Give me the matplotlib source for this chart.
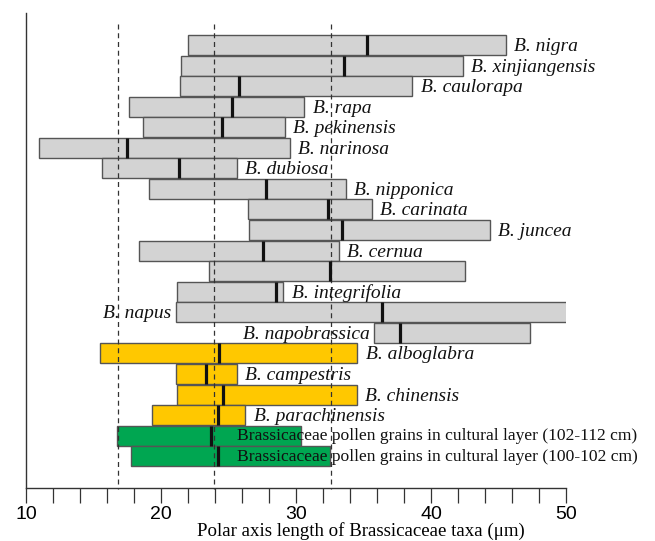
import matplotlib
matplotlib.use("Agg")
import matplotlib.pyplot as plt

# ---- data ----
taxa = ["B. nigra", "B. xinjiangensis", "B. caulorapa", "B. rapa", "B. pekinensis",
        "B. narinosa", "B. dubiosa", "B. nipponica", "B. carinata", "B. juncea",
        "B. cernua", "", "B. integrifolia", "B. napus", "B. napobrassica",
        "B. alboglabra", "B. campestris", "B. chinensis", "B. parachinensis",
        "Brassicaceae pollen grains in cultural layer (102-112 cm)",
        "Brassicaceae pollen grains in cultural layer (100-102 cm)"]
min_len = [22.0, 21.47, 21.42, 17.64, 18.68, 10.94, 15.63, 19.12, 26.43, 26.48,
           18.38, 23.57, 21.2, 21.07, 35.78, 15.49, 21.07, 21.2, 19.3, 16.7, 17.79]
mean_len = [35.23, 33.55, 25.74, 25.27, 24.53, 17.46, 21.3, 27.77, 32.35, 33.38,
            27.52, 32.54, 28.49, 36.39, 37.7, 24.31, 23.29, 24.58, 24.19, 23.72, 24.21]
max_len = [45.56, 42.35, 38.62, 30.61, 29.18, 29.52, 25.6, 33.7, 35.63, 44.35,
           33.18, 42.5, 29.05, 50.1, 47.32, 34.54, 25.62, 34.49, 26.23, 30.34, 32.51]
group = ["taxon"] * 15 + ["group2"] * 4 + ["fossil"] * 2
ref_lines = [16.82, 23.94, 32.59]
xticks_major = [10, 20, 30, 40, 50]
xlabel = "Polar axis length of Brassicaceae taxa (\u03bcm)"

# ---- style ----
colors = {"taxon": "#d3d3d3", "group2": "#ffc800", "fossil": "#00a651"}
left_labels = {"B. napus", "B. napobrassica"}
serif = ["Liberation Serif", "DejaVu Serif"]
sans = ["Liberation Sans", "DejaVu Sans"]

fig = plt.figure(figsize=(6.55, 5.41), dpi=100)
ax = fig.add_axes([0.0402, 0.0985, 0.8239, 0.8769])

n = len(taxa)
ys = list(range(n))
for y, lo, m, hi, g, name in zip(ys, min_len, mean_len, max_len, group, taxa):
    ax.barh(y, hi - lo, left=lo, height=0.973, color=colors[g],
            edgecolor="#555555", linewidth=1.0, zorder=2)
    ax.plot([m, m], [y - 0.486, y + 0.486], color="#111111", linewidth=2.3,
            solid_capstyle="butt", zorder=4)
    if not name:
        continue
    if g == "fossil":
        ax.annotate(name, xy=(25.6, y), xytext=(0, -3.2), textcoords="offset points",
                    ha="left", va="baseline", fontsize=12.6, family=serif,
                    color="#111111", zorder=5, annotation_clip=False)
    elif name in left_labels:
        ax.annotate(name, xy=(lo, y), xytext=(-3, -4.3), textcoords="offset points",
                    ha="right", va="baseline", fontsize=14, family=serif,
                    style="italic", color="#111111", zorder=5, annotation_clip=False)
    else:
        ax.annotate(name, xy=(hi, y), xytext=(6, -4.3), textcoords="offset points",
                    ha="left", va="baseline", fontsize=14, family=serif,
                    style="italic", color="#111111", zorder=5, annotation_clip=False)

for xv in ref_lines:
    ax.plot([xv, xv], [-1.02, 21.6], color="#333333", linewidth=0.9,
            linestyle=(0, (4, 3)), zorder=3, clip_on=False)

ax.set_xlim(10, 50)
ax.set_ylim(21.53, -1.54)
ax.set_yticks([])
ax.set_xticks(list(range(10, 51, 2)))
ax.set_xticklabels([str(t) if t in xticks_major else "" for t in range(10, 51, 2)],
                   family=sans, fontsize=14)
ax.tick_params(axis="x", direction="out", length=10.5, width=0.9, pad=3,
               color="#333333")
ax.spines["top"].set_visible(False)
ax.spines["right"].set_visible(False)
for s in ("left", "bottom"):
    ax.spines[s].set_linewidth(1.0)
    ax.spines[s].set_color("#333333")
ax.set_xlabel(xlabel, family=serif, fontsize=13.6)
ax.xaxis.set_label_coords(0.62, -0.1018)
ax.xaxis.label.set_verticalalignment("baseline")

fig.savefig("out.png", dpi=100)
